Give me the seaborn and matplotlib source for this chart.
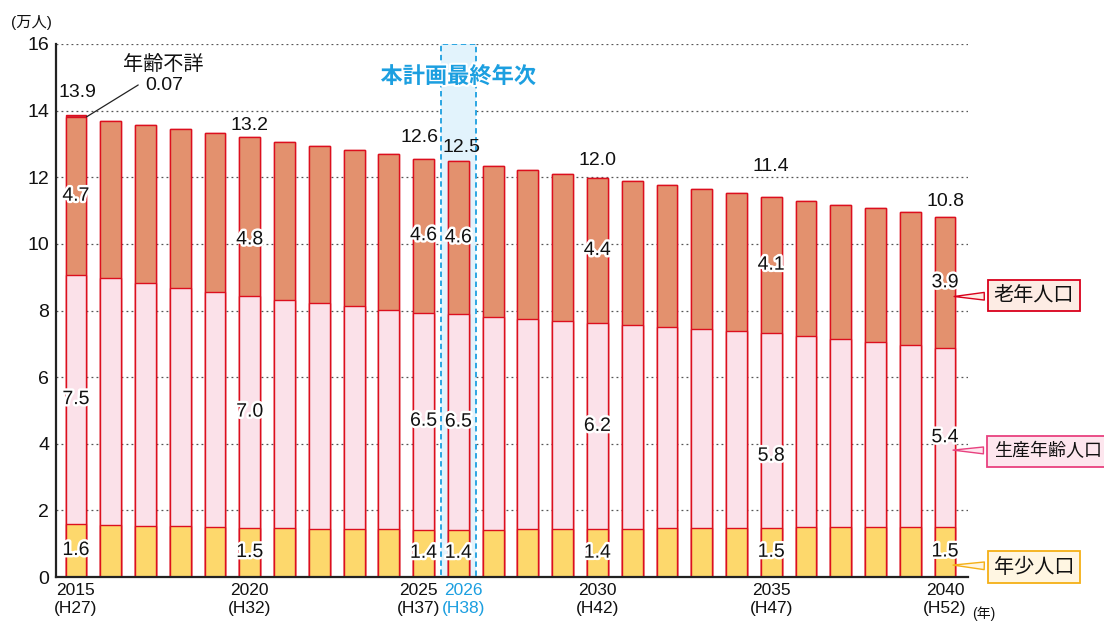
import matplotlib
matplotlib.use("Agg")
import matplotlib.pyplot as plt
import matplotlib.patheffects as pe
import matplotlib.transforms as mtrans
import numpy as np
import pandas as pd
import seaborn as sns

# ---------------- data (万人) ----------------
years = list(range(2015, 2041))
young = [1.59, 1.57, 1.54, 1.52, 1.50, 1.47, 1.46, 1.45, 1.44, 1.43, 1.42, 1.42, 1.42,
         1.43, 1.43, 1.43, 1.45, 1.46, 1.47, 1.48, 1.48, 1.49, 1.50, 1.50, 1.50, 1.50]
working = [7.47, 7.41, 7.29, 7.16, 7.06, 6.96, 6.86, 6.78, 6.70, 6.59, 6.51, 6.46, 6.39,
           6.32, 6.26, 6.18, 6.12, 6.05, 5.98, 5.91, 5.83, 5.75, 5.65, 5.56, 5.47, 5.36]
elderly = [4.74, 4.71, 4.74, 4.77, 4.77, 4.78, 4.74, 4.71, 4.68, 4.68, 4.63, 4.60, 4.53,
           4.47, 4.41, 4.38, 4.32, 4.26, 4.20, 4.14, 4.10, 4.05, 4.02, 4.02, 3.99, 3.94]
unknown = [0.07] + [0.0] * 25
labeled_years = [2015, 2020, 2025, 2026, 2030, 2035, 2040]
plan_year = 2026
series_names = ["年少人口", "生産年齢人口", "老年人口"]

# ---------------- style ----------------
sns.set_theme(style="white")
plt.rcParams["font.family"] = ["Liberation Sans", "Noto Sans CJK JP", "DejaVu Sans"]
plt.rcParams["axes.unicode_minus"] = False

C_YOUNG = "#fdd86c"
C_WORK = "#fbe1e9"
C_OLD = "#e3916e"
C_UNK = "#c9303a"
C_EDGE = "#dc0f1e"
C_BLUE = "#1c9fe0"

df = pd.DataFrame({"year": [str(y) for y in years],
                   "young": young, "working": working,
                   "elderly": elderly, "unknown": unknown})
df["c1"] = df["young"]
df["c2"] = df["c1"] + df["working"]
df["c3"] = df["c2"] + df["elderly"]
df["c4"] = df["c3"] + df["unknown"]
order = df["year"].tolist()

fig = plt.figure(figsize=(11.04, 6.25), dpi=100)
ax = fig.add_axes([56 / 1104, 48 / 625, 912 / 1104, 533 / 625])

for col, color in [("c4", C_UNK), ("c3", C_OLD), ("c2", C_WORK), ("c1", C_YOUNG)]:
    sns.barplot(data=df, x="year", y=col, order=order, color=color, saturation=1,
                width=0.6, edgecolor=C_EDGE, linewidth=1.0, ax=ax, zorder=2)

ax.set_xlim(-0.575, 25.66)
ax.set_ylim(0, 16)
ax.set_xlabel("")
ax.set_ylabel("")

# plan year highlight band
pi = years.index(plan_year)
ax.axvspan(pi - 0.5, pi + 0.5, facecolor="#e2f3fc", edgecolor=C_BLUE,
           linestyle=(0, (3, 2)), linewidth=1.3, zorder=1)
ax.text(pi, 15.0, "本計画最終年次", color=C_BLUE, fontsize=16, fontweight="bold",
        ha="center", va="center", zorder=5,
        path_effects=[pe.withStroke(linewidth=3, foreground="white")])

# grid
ax.set_yticks(np.arange(0, 17, 2))
ax.grid(axis="y", color="#555555", linestyle=(0, (1.5, 2.5)), linewidth=0.9, zorder=0)
ax.set_axisbelow(True)
ax.tick_params(axis="y", length=0, labelsize=14, pad=5, colors="#111111")
for s in ["top", "right"]:
    ax.spines[s].set_visible(False)
ax.spines["left"].set_color("#222222")
ax.spines["left"].set_linewidth(1.6)
ax.spines["bottom"].set_color("#222222")
ax.spines["bottom"].set_linewidth(1.6)

# x tick labels
tick_labels = [f"{y}\n(H{y - 1988})" if y in labeled_years else "" for y in years]
ax.set_xticks(range(len(years)))
ax.set_xticklabels(tick_labels, fontsize=12.5, linespacing=1.25)
ax.tick_params(axis="x", length=0, pad=4.5, colors="#111111")
nudge = {2025: -3.5, 2026: 3.5}
for i, lab in enumerate(ax.get_xticklabels()):
    if years[i] == plan_year:
        lab.set_color(C_BLUE)
    if years[i] in nudge:
        lab.set_transform(lab.get_transform() +
                          mtrans.ScaledTranslation(nudge[years[i]] / 72, 0,
                                                   fig.dpi_scale_trans))

# value labels
stroke = [pe.withStroke(linewidth=3.5, foreground="white")]
total_offsets = {2015: (1, 16.5), 2020: (0, 8), 2025: (-3, 15.5), 2026: (2, 10),
                 2030: (0, 12), 2035: (0, 22), 2040: (0, 11)}
seg_shift = {(2020, "elderly"): -0.7, (2035, "working"): -0.77}
for y in labeled_years:
    i = years.index(y)
    yv, wv, ev, uv = young[i], working[i], elderly[i], unknown[i]
    total = yv + wv + ev + uv
    segs = [("young", yv, yv / 2), ("working", wv, yv + wv / 2),
            ("elderly", ev, yv + wv + ev / 2)]
    for name, val, ymid in segs:
        ymid += seg_shift.get((y, name), 0)
        ax.text(i, ymid, f"{val:.1f}", ha="center", va="center", fontsize=14,
                color="#111111", path_effects=stroke, zorder=6)
    dx, dy = total_offsets[y]
    ax.annotate(f"{total:.1f}", xy=(i, total), xytext=(dx, dy),
                textcoords="offset points", ha="center", va="center",
                fontsize=14, color="#111111", zorder=6)

# 年齢不詳 annotation
ax.plot([0.30, 1.79], [13.81, 14.77], color="#222222", lw=0.9, zorder=6,
        clip_on=False)
ax.text(2.50, 15.37, "年齢不詳", fontsize=14.5, ha="center", va="center",
        color="#111111")
ax.text(2.53, 14.74, f"{unknown[0]:.2f}", fontsize=14, ha="center", va="center",
        color="#111111")

# callout boxes
callouts = [
    ("老年人口", (25.18, 8.42), (26.40, 8.44), "#d9001b", "#fdece4", 14.5, 0.3),
    ("生産年齢人口", (25.15, 3.81), (26.40, 3.78), "#e8417f", "#fde6ee", 13, 0.38),
    ("年少人口", (25.15, 0.36), (26.40, 0.30), "#f4b016", "#fff6e2", 14.5, 0.3),
]
for text, tip, pos, ec, fc, fs, pad in callouts:
    ax.annotate(text, xy=tip, xycoords="data", xytext=pos, textcoords="data",
                ha="left", va="center", fontsize=fs, color="#111111",
                bbox=dict(boxstyle=f"square,pad={pad}", fc=fc, ec=ec, lw=1.3),
                arrowprops=dict(arrowstyle="wedge,tail_width=0.38,shrink_factor=0.5",
                                fc=fc, ec=ec, lw=1.0),
                annotation_clip=False, zorder=7)

# units
fig.text(31 / 1104, 1 - 23 / 625, "(万人)", fontsize=11, ha="center", va="center",
         color="#111111")
fig.text(984 / 1104, 1 - 614 / 625, "(年)", fontsize=10, ha="center", va="center",
         color="#111111")

fig.savefig("out.png", dpi=100)
